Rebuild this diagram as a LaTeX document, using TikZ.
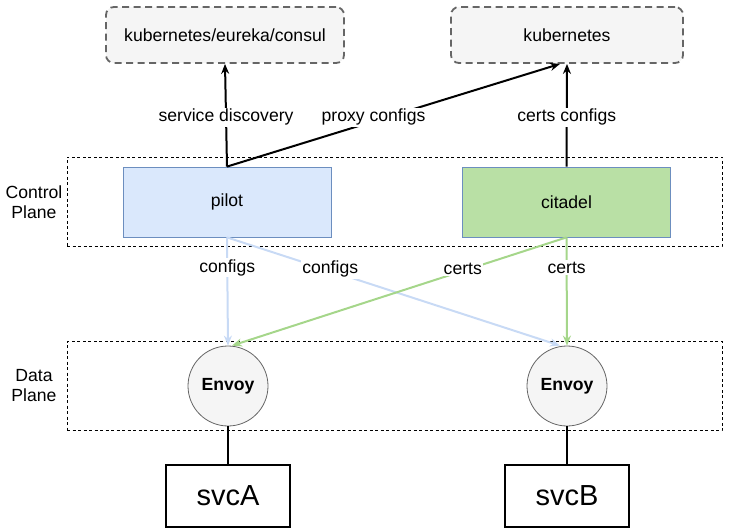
\documentclass[tikz,border=0pt]{standalone}
\usepackage{fontspec}
\setmainfont{Liberation Sans}
\usetikzlibrary{arrows.meta}

\definecolor{pilotfill}{HTML}{DAE8FC}
\definecolor{pilotline}{HTML}{6C8EBF}
\definecolor{citadelfill}{HTML}{B9E0A5}
\definecolor{configline}{HTML}{C8DAF5}
\definecolor{certline}{HTML}{A5D68A}
\definecolor{envoyfill}{HTML}{F5F5F5}
\definecolor{regline}{HTML}{666666}

\begin{document}
\begin{tikzpicture}[x=1pt,y=-1pt,
  txt/.style={font=\fontsize{17.6}{20}\selectfont},
  registry/.style={draw=regline, fill=envoyfill, line width=1.8pt, dash pattern=on 7pt off 4.5pt,
    rounded corners=8pt, minimum height=56pt, txt},
  plane/.style={draw, line width=0.8pt, dash pattern=on 3pt off 2.5pt, minimum width=655pt, minimum height=89pt},
  comp/.style={draw=pilotline, line width=0.8pt, minimum width=208pt, minimum height=70pt, txt},
  envoy/.style={draw=regline, fill=envoyfill, circle, minimum size=80pt, line width=0.8pt,
    font=\fontsize{17.6}{20}\selectfont\bfseries},
  svc/.style={draw, line width=1.2pt, minimum width=124pt, minimum height=62pt, font=\fontsize{29}{32}\selectfont},
  lbl/.style={fill=white, inner sep=1.5pt, txt},
  arr/.style={-{Stealth[length=10pt,width=8pt]}, line width=2pt}]
\useasboundingbox (0,0) rectangle (729,532);

% planes
\node[plane] (cp) at (394.5,201.5) {};
\node[plane] (dp) at (394.5,386) {};
\node[txt, align=center] (cplabel) at (34,202) {Control\\Plane};
\node[txt, align=center] (dplabel) at (34,386) {Data\\Plane};

% registries
\node[registry, minimum width=238pt] (disc) at (225,35) {kubernetes/eureka/consul};
\node[registry, minimum width=232pt] (kube) at (567,35) {kubernetes};

% control plane
\node[comp, fill=pilotfill] (pilot) at (227,202) {pilot};
\node[comp, fill=citadelfill] (citadel) at (566.5,202) {citadel};

% data plane
\node[envoy] (envoyA) at (228,386) {Envoy};
\node[envoy] (envoyB) at (567,386) {Envoy};
\node[svc] (svcA) at (228,496) {svcA};
\node[svc] (svcB) at (567,496) {svcB};

\path[draw,arr] (pilot.north) -- node[lbl,pos=0.48] {service discovery} (disc.south);
\path[draw,arr] (pilot.north) -- node[lbl,pos=0.44,yshift=4pt] {proxy configs} ([xshift=-7pt]kube.south);
\path[draw,arr] (citadel.north) -- node[lbl,pos=0.48] {certs configs} (kube.south);

\path[draw=configline,arr] (pilot.south) -- node[lbl,pos=0.28] {configs} (envoyA.north);
\path[draw=configline,arr] (pilot.south) -- node[lbl,pos=0.31,yshift=2pt] {configs} ([xshift=-7pt]envoyB.north);
\path[draw=certline,arr] (citadel.south) -- node[lbl,pos=0.31,yshift=2pt] {certs} ([xshift=4pt]envoyA.north);
\path[draw=certline,arr] (citadel.south) -- node[lbl,pos=0.28] {certs} (envoyB.north);

\path[draw,line width=2pt] (envoyA) -- (svcA);
\path[draw,line width=2pt] (envoyB) -- (svcB);
\end{tikzpicture}
\end{document}
